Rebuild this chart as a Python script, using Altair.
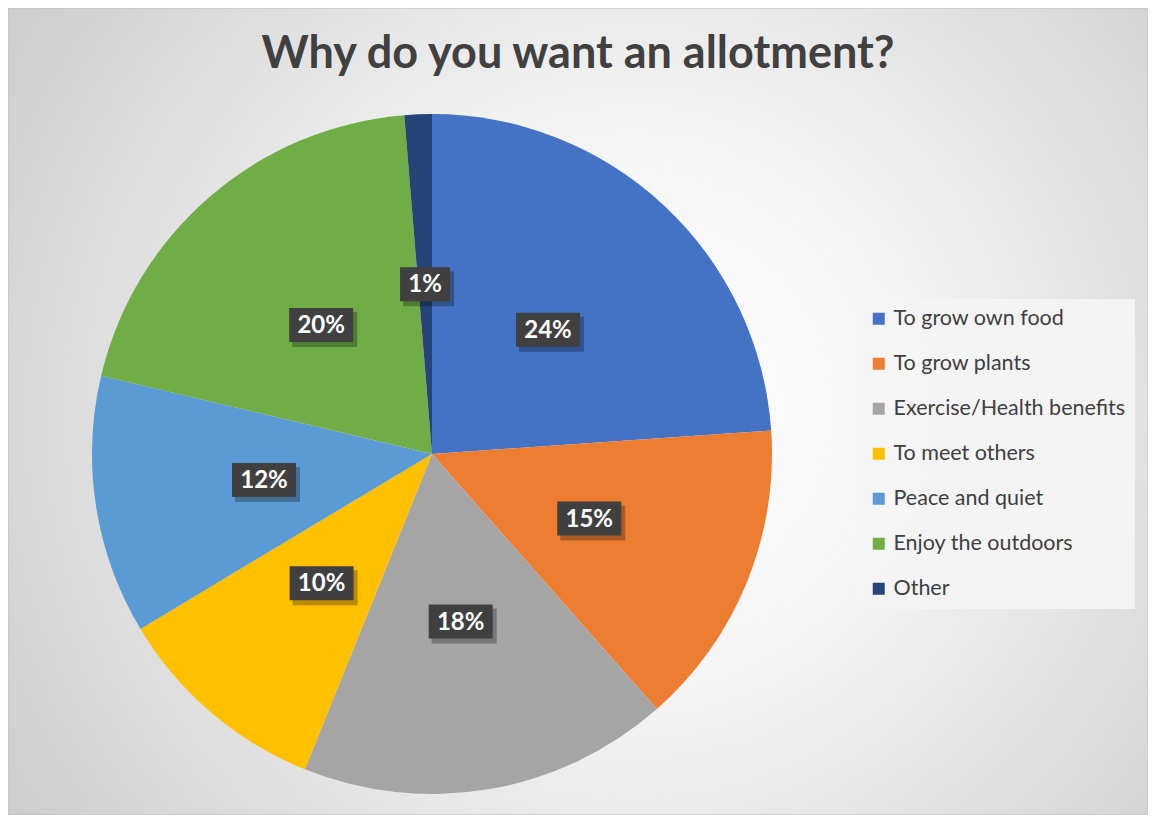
import altair as alt
import pandas as pd

categories = ["To grow own food", "To grow plants", "Exercise/Health benefits",
              "To meet others", "Peace and quiet", "Enjoy the outdoors", "Other"]
values = [23.9, 14.6, 17.6, 10.3, 12.3, 20.0, 1.3]
colors = ["#4472C4", "#ED7D31", "#A5A5A5", "#FFC000", "#5B9BD5", "#70AD47", "#264478"]
title_text = "Why do you want an allotment?"

W, H = 1140, 807
CX, CY, R = 424, 446, 340
LR = R * 0.5

df = pd.DataFrame({"category": categories, "value": values,
                   "order": list(range(len(categories)))})

xs = alt.Scale(domain=[0, W], range=[0, W], nice=False, zero=False)
ys = alt.Scale(domain=[0, H], range=[0, H], nice=False, zero=False)

gradient = {
    "gradient": "radial",
    "x1": 0.55, "y1": 0.5, "r1": 0,
    "x2": 0.55, "y2": 0.5, "r2": 0.72,
    "stops": [{"offset": 0, "color": "#ffffff"},
              {"offset": 0.35, "color": "#f4f4f4"},
              {"offset": 1, "color": "#c6c6c6"}],
}

bg = alt.Chart(pd.DataFrame({"bg": [0]})).mark_rect(
    fill=gradient, stroke="#bfbfbf", strokeWidth=1
).encode(x=alt.value(0), x2=alt.value(W), y=alt.value(0), y2=alt.value(H))

title = alt.Chart(pd.DataFrame({"t": [title_text]})).mark_text(
    font="Lato", fontSize=45, fontWeight="bold", color="#404040",
    align="center", baseline="alphabetic"
).encode(x=alt.value(W / 2), y=alt.value(60), text="t:N")

color = alt.Color(
    "category:N",
    scale=alt.Scale(domain=categories, range=colors),
    legend=alt.Legend(
        title=None, orient="none", legendX=851, legendY=291,
        fillColor="rgba(244,244,244,0.92)", padding=9,
        symbolType="square", symbolSize=144, symbolStrokeWidth=0,
        labelFontSize=21.5, labelFont="Lato", labelColor="#404040",
        rowPadding=22, labelOffset=4, labelLimit=400,
    ),
)

pie = alt.Chart(df).mark_arc(outerRadius=R).encode(
    theta=alt.Theta("value:Q", stack=True),
    color=color,
    order=alt.Order("order:Q"),
    x=alt.value(CX), y=alt.value(CY),
)

lab = alt.Chart(df).transform_window(
    cum="sum(value)", sort=[alt.SortField(field="order", order="ascending")],
    frame=[None, 0]
).transform_joinaggregate(
    total="sum(value)"
).transform_calculate(
    mid="(datum.cum - datum.value/2)/datum.total*2*PI",
    px=f"{CX} + {LR}*sin(datum.mid)",
    py=f"{CY} - {LR}*cos(datum.mid)",
    label="format(datum.value/datum.total, '.0%')",
    bw="22 + 14*length(datum.label)",
    x1="datum.px - datum.bw/2", x2="datum.px + datum.bw/2",
    y1="datum.py - 17", y2="datum.py + 17",
    sx1="datum.x1 + 3", sx2="datum.x2 + 4", sy1="datum.y1 + 4", sy2="datum.y2 + 5",
)

shadow = lab.mark_rect(fill="#000000", opacity=0.28).encode(
    x=alt.X("sx1:Q", scale=xs, axis=None), x2="sx2:Q",
    y=alt.Y("sy1:Q", scale=ys, axis=None), y2="sy2:Q",
)
box = lab.mark_rect(fill="#404040").encode(
    x=alt.X("x1:Q", scale=xs, axis=None), x2="x2:Q",
    y=alt.Y("y1:Q", scale=ys, axis=None), y2="y2:Q",
)
txt = lab.mark_text(font="Lato", fontSize=24, fontWeight="bold", color="#ffffff",
                    align="center", baseline="middle", dy=1).encode(
    x=alt.X("px:Q", scale=xs, axis=None),
    y=alt.Y("py:Q", scale=ys, axis=None),
    text="label:N",
)

chart = alt.layer(bg, title, pie, shadow, box, txt).properties(
    width=W, height=H,
    autosize=alt.AutoSizeParams(type="none"),
    padding=0,
).configure_view(stroke=None)

chart.save("out.html", embed_options={"renderer": "svg", "actions": False})
